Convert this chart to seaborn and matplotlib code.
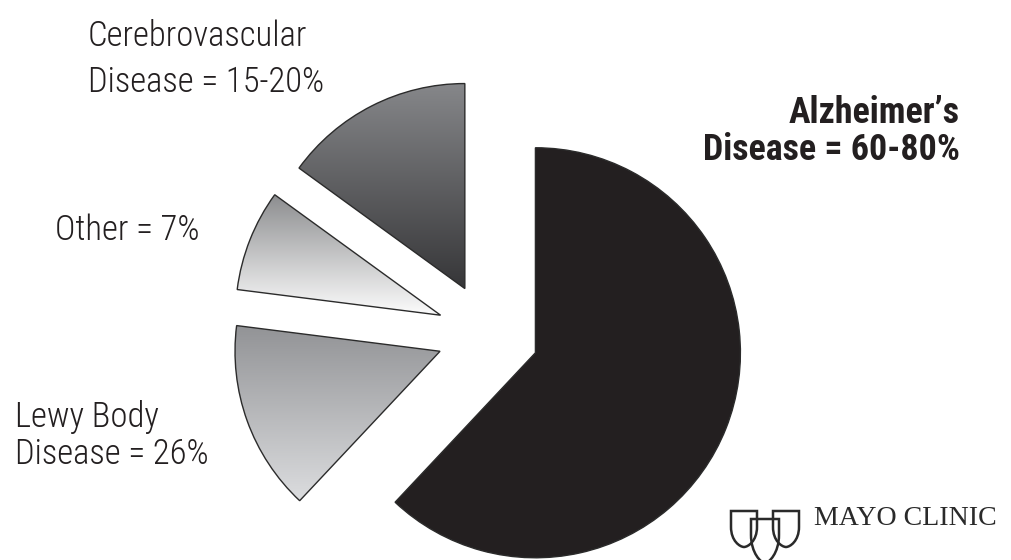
import numpy as np
import matplotlib
matplotlib.use("Agg")
import matplotlib.pyplot as plt
import seaborn as sns
from matplotlib import font_manager
from matplotlib.font_manager import FontProperties
from matplotlib.path import Path
from matplotlib.patches import PathPatch
from matplotlib.colors import LinearSegmentedColormap

# slice sizes as drawn (counter-clockwise from 12 o'clock)
categories = ["Cerebrovascular", "Other", "Lewy Body", "Alzheimer's"]
shares = [15, 8, 15, 62]
label_lines = [
    ["Cerebrovascular", "Disease = 15-20%"],
    ["Other = 7%"],
    ["Lewy Body", "Disease = 26%"],
    ["Alzheimer\u2019s", "Disease = 60-80%"],
]
brand = "MAYO CLINIC"

# styles / layout
TOP_COLORS = ["#86878a", "#8c8d8f", "#929396", "#231f20"]
BOTTOM_COLORS = ["#363638", "#fcfcfc", "#dcdddf", "#231f20"]
LABEL_X = [88, 55, 15, 960]
LABEL_BASE = [46, 240, 427, 123]     # first baseline, px from top
LABEL_GAP = [46, 37, 37, 37]
LABEL_HA = ["left", "left", "left", "right"]
LABEL_BOLD = [False, False, False, True]
REG_WIDTH = 237    # px width of "Disease = 15-20%"
BOLD_WIDTH = 257   # px width of "Disease = 60-80%"
W, H = 1011, 560
PIE_CENTER = (488, H - 334)
PIE_RADIUS = 205
EXPLODE = 51
INK = "#231f20"


def pick_font(bold):
    # look for an installed narrow / condensed sans, otherwise fall back
    want = 700 if bold else 300
    best, best_score = None, None
    pref = ["liberation sans narrow", "noto sans", "roboto", "open sans", "lato", "inter"]
    for f in font_manager.fontManager.ttflist:
        name = f.name.lower()
        if f.style != "normal":
            continue
        narrow = ("narrow" in name or "condensed" in name
                  or f.stretch in ("condensed", "semi-condensed", "extra-condensed"))
        base = next((i for i, p in enumerate(pref) if name.startswith(p)), None)
        if base is None:
            continue
        w = f.weight if isinstance(f.weight, (int, float)) else (700 if "bold" in str(f.weight) else 400)
        if "extra" in str(f.stretch) or "extra" in name or "semi" in str(f.stretch) or "semi" in name:
            narrow_rank = 1
        else:
            narrow_rank = 0
        score = (0 if narrow else 1, narrow_rank, abs(w - want), base)
        if best_score is None or score < best_score:
            best, best_score = f, score
    if best is None:
        return FontProperties(family="DejaVu Sans", weight="bold" if bold else "normal")
    return FontProperties(fname=best.fname)


def fit_size(fig, fp, text, target):
    t = fig.text(0, 0, text, fontproperties=fp, fontsize=20)
    w = t.get_window_extent(fig.canvas.get_renderer()).width
    t.remove()
    return 20 * target / w


def shield(ax, x0, x1, ytop, yside, ybot):
    xc = (x0 + x1) / 2
    verts = [(x0, H - ytop), (x1, H - ytop), (x1, H - yside),
             (x1, H - (yside + ybot) / 2 - 4), (xc + 4, H - ybot), (xc, H - ybot),
             (xc - 4, H - ybot), (x0, H - (yside + ybot) / 2 - 4), (x0, H - yside),
             (x0, H - ytop)]
    codes = [Path.MOVETO, Path.LINETO, Path.LINETO,
             Path.CURVE4, Path.CURVE4, Path.CURVE4,
             Path.CURVE4, Path.CURVE4, Path.CURVE4, Path.CLOSEPOLY]
    ax.add_patch(PathPatch(Path(verts, codes), facecolor="none",
                           edgecolor="#2a2a2a", linewidth=1.8, zorder=3))


def main():
    sns.set_style("white")
    plt.rcParams["font.family"] = ["DejaVu Sans"]

    fig = plt.figure(figsize=(W / 100, H / 100), dpi=100)
    ax = fig.add_axes([0, 0, 1, 1])

    wedges, _ = ax.pie(
        shares, startangle=90, counterclock=True,
        explode=[EXPLODE] * len(shares), radius=PIE_RADIUS, center=PIE_CENTER,
        colors=TOP_COLORS,
        wedgeprops=dict(edgecolor="#2b2b2b", linewidth=1.0),
    )

    grad = np.linspace(1, 0, 256).reshape(-1, 1)
    for w, c_top, c_bot in zip(wedges, TOP_COLORS, BOTTOM_COLORS):
        if c_top == c_bot:
            continue
        ext = w.get_path().get_extents()
        cmap = LinearSegmentedColormap.from_list("g", [c_bot, c_top])
        im = ax.imshow(grad, cmap=cmap, aspect="auto", origin="upper",
                       extent=(ext.x0, ext.x1, ext.y0, ext.y1), zorder=0.5)
        im.set_clip_path(w)
        w.set_facecolor("none")
        w.set_zorder(1)

    fp_reg = pick_font(False)
    fp_bold = pick_font(True)
    size_reg = fit_size(fig, fp_reg, label_lines[0][1], REG_WIDTH)
    size_bold = fit_size(fig, fp_bold, label_lines[3][1], BOLD_WIDTH)

    for lines, x, y0, gap, ha, bold in zip(label_lines, LABEL_X, LABEL_BASE,
                                           LABEL_GAP, LABEL_HA, LABEL_BOLD):
        for i, line in enumerate(lines):
            ax.text(x, H - (y0 + i * gap), line, ha=ha, va="baseline",
                    fontproperties=fp_bold if bold else fp_reg,
                    fontsize=size_bold if bold else size_reg, color=INK)

    # logo
    shield(ax, 731, 757, 511, 527, 547)
    shield(ax, 773, 799, 511, 527, 547)
    shield(ax, 751, 779, 519, 535, 563)
    fp_serif = FontProperties(family=["Liberation Serif", "DejaVu Serif"])
    ax.text(814, H - 525, brand, ha="left", va="baseline", fontproperties=fp_serif,
            fontsize=fit_size(fig, fp_serif, brand, 182), color="#2a2a2a")

    ax.set_xlim(0, W)
    ax.set_ylim(0, H)
    ax.set_aspect("equal")
    ax.axis("off")

    fig.savefig("out.png", dpi=100)
    plt.close(fig)


if __name__ == "__main__":
    main()
